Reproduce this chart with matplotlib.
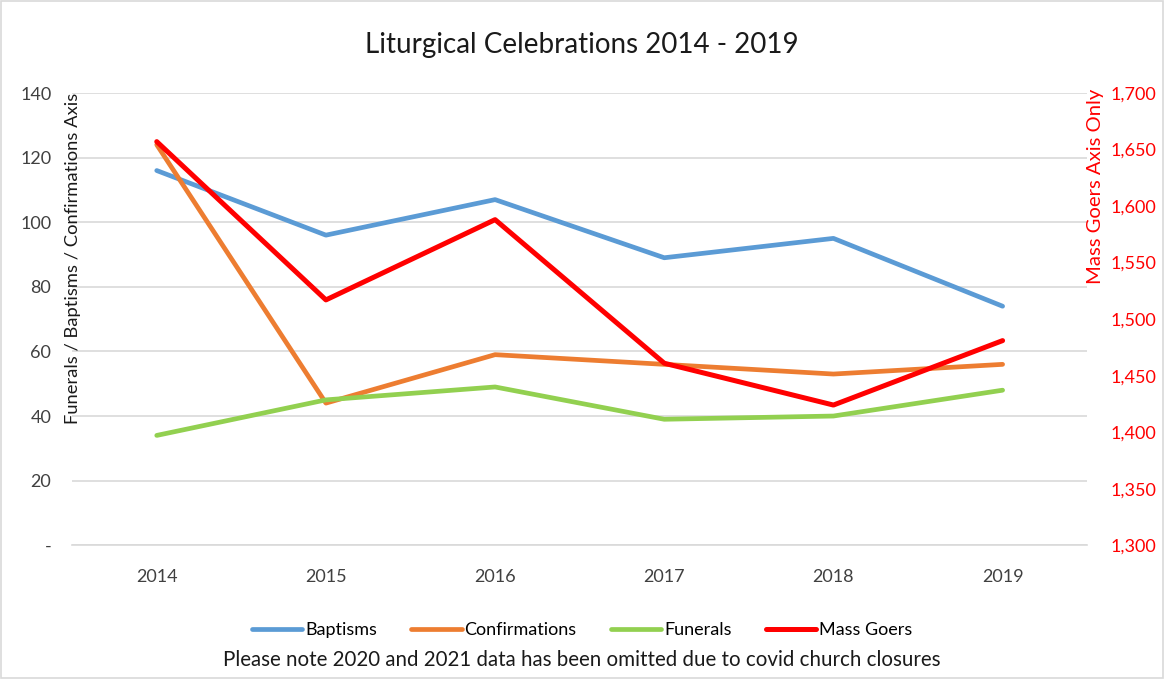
import matplotlib.pyplot as plt
from matplotlib.patches import Rectangle
from matplotlib.ticker import FuncFormatter

plt.rcParams['font.family'] = ['Lato', 'DejaVu Sans']

years = ['2014', '2015', '2016', '2017', '2018', '2019']
baptisms = [116, 96, 107, 89, 95, 74]
confirmations = [124, 44, 59, 56, 53, 56]
funerals = [34, 45, 49, 39, 40, 48]
mass_goers = [1657, 1517, 1588, 1461, 1424, 1481]

left_ticks = [0, 20, 40, 60, 80, 100, 120, 140]
right_ticks = [1300, 1350, 1400, 1450, 1500, 1550, 1600, 1650, 1700]

c_bap = '#5B9BD5'
c_conf = '#ED7D31'
c_fun = '#92D050'
c_mass = '#FF0000'
grid_c = '#D9D9D9'

fig = plt.figure(figsize=(11.64, 6.79), dpi=100)
ax = fig.add_axes([0.062, 0.197, 0.872, 0.666])
ax2 = ax.twinx()

x = list(range(len(years)))
l1, = ax.plot(x, baptisms, color=c_bap, lw=3.4, label='Baptisms', solid_capstyle='round')
l2, = ax.plot(x, confirmations, color=c_conf, lw=3.4, label='Confirmations', solid_capstyle='round')
l3, = ax.plot(x, funerals, color=c_fun, lw=3.4, label='Funerals', solid_capstyle='round')
l4, = ax2.plot(x, mass_goers, color=c_mass, lw=3.6, label='Mass Goers', solid_capstyle='round')

ax.set_xlim(-0.5, len(years) - 0.5)
ax.set_ylim(0, 140)
ax.set_yticks(left_ticks)
ax.yaxis.set_major_formatter(FuncFormatter(lambda v, p: '-' if v == 0 else f'{v:.0f}'))
ax.grid(axis='y', color=grid_c, lw=1.2)
ax.set_axisbelow(True)
ax.set_xticks(x)
ax.set_xticklabels(years)
ax.tick_params(axis='both', length=0, labelsize=13, colors='#404040')
ax.tick_params(axis='x', pad=17)
ax.tick_params(axis='y', pad=15)
for ax_ in (ax, ax2):
    for s in ax_.spines.values():
        s.set_visible(False)
ax.spines['bottom'].set_visible(True)
ax.spines['bottom'].set_color(grid_c)
ax.spines['bottom'].set_linewidth(1.2)

ax2.set_ylim(1300, 1700)
ax2.set_yticks(right_ticks)
ax2.yaxis.set_major_formatter(FuncFormatter(lambda v, p: f'{v:,.0f}'))
ax2.tick_params(axis='y', length=0, labelsize=13, colors=c_mass, pad=17)

fig.text(0.5, 0.934, 'Liturgical Celebrations 2014 - 2019', ha='center', va='center',
         fontsize=20, color='#1a1a1a')
fig.text(0.063, 0.864, 'Funerals / Baptisms / Confirmations Axis', rotation=90,
         ha='center', va='top', fontsize=13.2, color='#1a1a1a')
fig.text(0.941, 0.869, 'Mass Goers Axis Only', rotation=90,
         ha='center', va='top', fontsize=14.6, color=c_mass)

fig.legend(handles=[l1, l2, l3, l4], loc='center', bbox_to_anchor=(0.5, 0.072),
           ncol=4, frameon=False, fontsize=13, handlelength=2.8, handletextpad=0.15,
           columnspacing=1.9)
fig.text(0.5, 0.028, 'Please note 2020 and 2021 data has been omitted due to covid church closures',
         ha='center', va='center', fontsize=14.8, color='#1a1a1a')

fig.patches.append(Rectangle((0.001, 0.002), 0.998, 0.996, transform=fig.transFigure,
                             fill=False, edgecolor='#D9D9D9', lw=1.2))

fig.savefig('out.png', dpi=100)
